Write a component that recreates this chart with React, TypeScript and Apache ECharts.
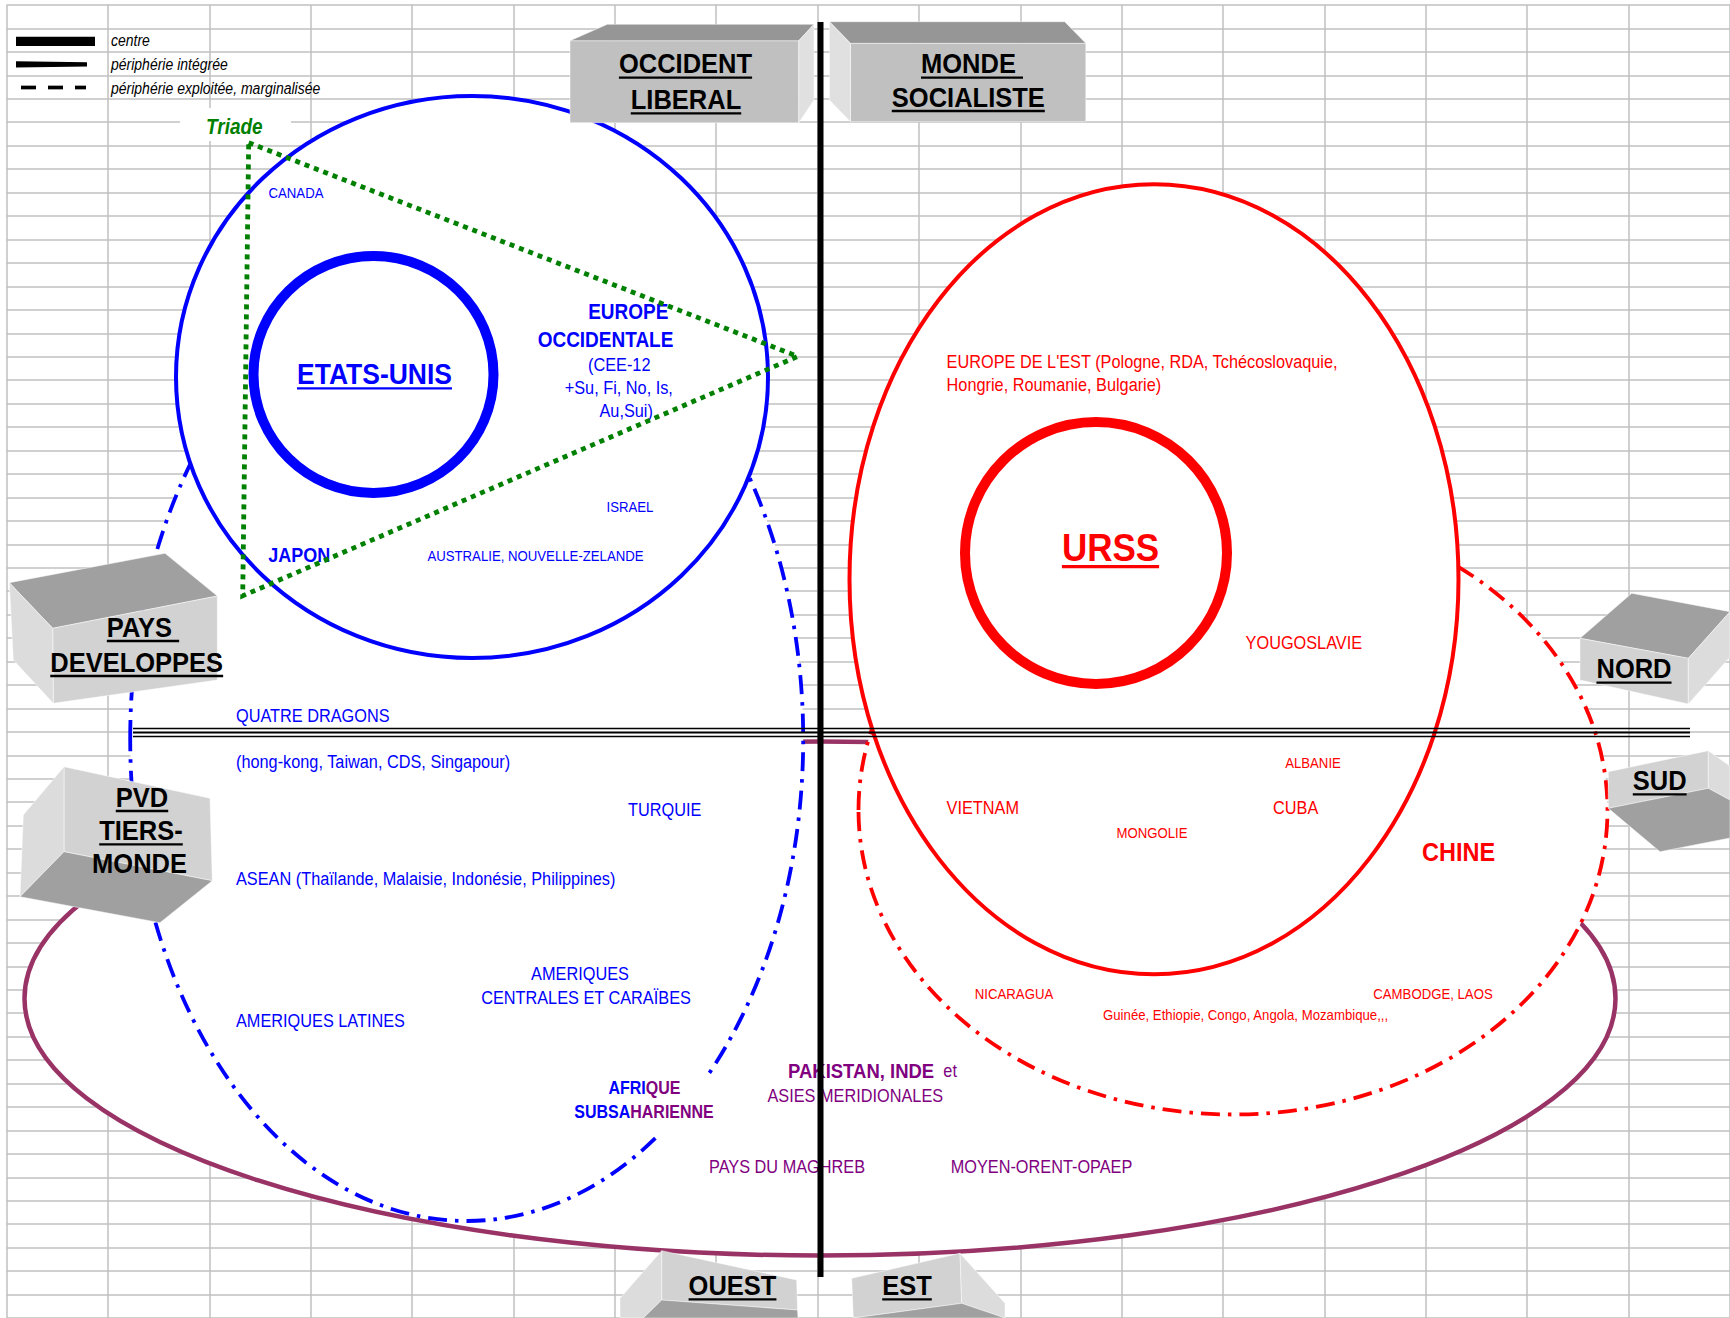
import React, { useEffect, useRef } from 'react';
import * as echarts from 'echarts';

const PAGE_W = 1730;
const PAGE_H = 1318;

// spreadsheet background
const SHEET_COLUMNS = 17;
const SHEET_ROWS = 56;
const COL_W = 101.5;
const ROW_H = 23.46;

const FAMILY = '"Liberation Sans", Arial, Helvetica, sans-serif';
const SY = 1.12;
const BLUE = '#0000ff';
const RED = '#ff0000';
const PURPLE = '#800080';
const GREEN = '#008000';
const PLUM = '#993366';

// legend
const LEGEND_LABELS = ['centre', 'périphérie intégrée', 'périphérie exploitée, marginalisée'];
const LEGEND_ROWS = [41, 65, 89];

// zones : [cx, cy, rx, ry]
const ZONE_TIERS_MONDE = [820, 998.5, 795.5, 257];
const ZONE_PERIPH_OUEST = [466.7, 739, 336.5, 482];
const ZONE_PERIPH_EST = [1233, 810, 374.5, 304.5];
const ZONE_OCCIDENT = [472, 377, 296, 281];
const ZONE_SOCIALISTE = [1154, 579.3, 304.5, 395];
const CENTRE_OUEST = [373.5, 374.5, 120, 118.5];
const CENTRE_EST = [1096, 553, 131, 131];
const TRIADE = [[248.7, 142.7], [797.7, 356.4], [242.7, 595.8]];

// dividers
const DIVIDER_EST_OUEST = [820.5, 22, 1277];
const DIVIDER_NORD_SUD = [133, 1690, 728.5, 732.5, 736.5];

// labels : [text, x, y, kind, align]
const LABELS_OCCIDENT = [
  ['CANADA', 296, 193, 's', 'center'],
  ['EUROPE', 628.3, 311.7, 'b19', 'center'],
  ['OCCIDENTALE', 605.5, 340, 'b19', 'center'],
  ['(CEE-12', 619.2, 364.3, 'n', 'center'],
  ['+Su, Fi, No, Is,', 618.8, 387.7, 'n', 'center'],
  ['Au,Sui)', 626.2, 411, 'n', 'center'],
  ['ISRAEL', 630, 506.7, 's', 'center'],
  ['AUSTRALIE, NOUVELLE-ZELANDE', 535.5, 556, 's', 'center'],
  ['JAPON', 299.2, 555, 'b18', 'center'],
  ['QUATRE DRAGONS', 236, 716, 'n', 'left'],
  ['(hong-kong, Taiwan, CDS, Singapour)', 236, 762, 'n', 'left'],
  ['TURQUIE', 628, 810, 'n', 'left'],
  ['ASEAN (Thaïlande, Malaisie, Indonésie, Philippines)', 236, 879, 'n', 'left'],
  ['AMERIQUES', 580, 973.5, 'n', 'center'],
  ['CENTRALES ET CARAÏBES', 586, 997.3, 'n', 'center'],
  ['AMERIQUES LATINES', 236, 1020.5, 'n', 'left'],
];
const LABELS_SOCIALISTE = [
  ["EUROPE DE L'EST (Pologne, RDA, Tchécoslovaquie,", 946.6, 362, 'n', 'left'],
  ['Hongrie, Roumanie, Bulgarie)', 946.6, 385, 'n', 'left'],
  ['YOUGOSLAVIE', 1245.6, 643, 'n', 'left'],
  ['ALBANIE', 1313, 762.4, 's', 'center'],
  ['VIETNAM', 946.6, 807.6, 'n', 'left'],
  ['CUBA', 1273, 807.6, 'n', 'left'],
  ['MONGOLIE', 1152, 833, 's', 'center'],
  ['CHINE', 1458.6, 851.8, 'b23', 'center'],
  ['NICARAGUA', 1014, 993.5, 's', 'center'],
  ['CAMBODGE, LAOS', 1433, 993.5, 's', 'center'],
  ['Guinée, Ethiopie, Congo, Angola, Mozambique,,,', 1245.6, 1015, 's', 'center'],
];
const LABELS_TIERS_MONDE = [
  ['ASIES MERIDIONALES', 855.3, 1095.7, 'n', 'center'],
  ['PAYS DU MAGHREB', 787, 1166.5, 'n', 'center'],
  ['MOYEN-ORENT-OPAEP', 1041.5, 1166.5, 'n', 'center'],
];
const LABEL_PAKISTAN = ['PAKISTAN, INDE', '  et', 788, 1071];
const LABEL_AFRIQUE = [['AFRI', 'QUE', 644.4, 1088.3], ['SUBSA', 'HARIENNE', 644, 1111.7]];
const LABEL_ETATS_UNIS = ['ETATS-UNIS', 374.5, 373.5];
const LABEL_URSS = ['URSS', 1110.5, 547];
const LABEL_TRIADE = ['Triade', 234.3, 126.7];

// 3D blocks : faces [colour, points] and lines [text, x, y, underlined]
const BLOCKS = [
  {
    faces: [
      ['#c0c0c0', [[570, 40.7], [798.8, 40.7], [798.8, 122.7], [570, 122.7]]],
      ['#969696', [[570, 40.7], [607.4, 24.3], [814, 24.3], [798.8, 40.7]]],
      ['#e0e0e0', [[798.8, 40.7], [814, 24.3], [814, 100], [798.8, 122.7]]],
    ],
    lines: [['OCCIDENT', 685.5, 63.3, true], ['LIBERAL', 686, 99, true]],
  },
  {
    faces: [
      ['#c0c0c0', [[850.4, 43.3], [1085.8, 43.3], [1085.8, 121.7], [850.4, 121.7]]],
      ['#969696', [[829.4, 21.7], [1064.7, 21.7], [1085.8, 43.3], [850.4, 43.3]]],
      ['#e0e0e0', [[829.4, 21.7], [850.4, 43.3], [850.4, 121.7], [829.4, 100]]],
    ],
    lines: [['MONDE ', 972, 63.3, true], ['SOCIALISTE', 968.3, 96.7, true]],
  },
  {
    faces: [
      ['#a0a0a0', [[9.3, 582.7], [165, 553.3], [217.3, 596], [52.7, 628.3]]],
      ['#d2d2d2', [[52.7, 628.3], [217.3, 596], [217.3, 680], [53.3, 703.3]]],
      ['#dcdcdc', [[9.3, 582.7], [52.7, 628.3], [53.3, 703.3], [13.3, 660]]],
    ],
    lines: [['PAYS ', 143, 626.7, true], ['DEVELOPPES', 136.7, 661.7, true]],
  },
  {
    faces: [
      ['#d2d2d2', [[64, 766.7], [210, 798.3], [212.3, 880.7], [64, 851.7]]],
      ['#dcdcdc', [[23.3, 815], [64, 766.7], [64, 851.7], [20, 896.7]]],
      ['#a0a0a0', [[20, 896.7], [64, 851.7], [212.3, 880.7], [160, 922.7]]],
    ],
    lines: [['PVD', 142, 796.7, true], ['TIERS-', 141, 830, true], ['MONDE', 139.5, 863.3, false]],
  },
  {
    faces: [
      ['#a0a0a0', [[1580, 638.3], [1631.7, 593.3], [1730, 611.7], [1688.3, 658.3]]],
      ['#d2d2d2', [[1580, 638.3], [1688.3, 658.3], [1688.3, 704], [1580, 680]]],
      ['#dcdcdc', [[1688.3, 658.3], [1730, 611.7], [1730, 657], [1688.3, 704]]],
    ],
    lines: [['NORD', 1634, 668.3, true]],
  },
  {
    faces: [
      ['#d2d2d2', [[1608.3, 771.7], [1708.3, 750.7], [1708.3, 788.3], [1608.3, 808.3]]],
      ['#dcdcdc', [[1708.3, 750.7], [1730, 766], [1730, 800], [1708.3, 788.3]]],
      ['#a0a0a0', [[1608.3, 808.3], [1708.3, 788.3], [1730, 800], [1730, 838], [1660, 851.7]]],
    ],
    lines: [['SUD', 1659.7, 780, true]],
  },
  {
    faces: [
      ['#dcdcdc', [[620, 1298.3], [661.7, 1250.7], [661.7, 1300], [643.3, 1318], [620, 1318]]],
      ['#d2d2d2', [[661.7, 1250.7], [796.7, 1280], [797.5, 1310], [661.7, 1300]]],
      ['#a0a0a0', [[643.3, 1318], [661.7, 1300], [797.5, 1310], [798, 1318]]],
    ],
    lines: [['OUEST', 732.5, 1285, true]],
  },
  {
    faces: [
      ['#d2d2d2', [[851.7, 1278.3], [960, 1253.3], [961.7, 1303.3], [853.3, 1318]]],
      ['#dcdcdc', [[960, 1253.3], [1005, 1303.3], [1005, 1318], [961.7, 1303.3]]],
      ['#a0a0a0', [[853.3, 1318], [961.7, 1303.3], [1005, 1318]]],
    ],
    lines: [['EST', 907, 1285, true]],
  },
];

const FONTS: Record<string, string> = {
  s: `13.2px ${FAMILY}`,
  n: `16.3px ${FAMILY}`,
  b16: `bold 16px ${FAMILY}`,
  b18: `bold 18px ${FAMILY}`,
  b185: `bold 18.5px ${FAMILY}`,
  b19: `bold 19px ${FAMILY}`,
  b23: `bold 23.5px ${FAMILY}`,
  h26: `bold 26.5px ${FAMILY}`,
  h35: `bold 35px ${FAMILY}`,
  box: `bold 25.5px ${FAMILY}`,
  leg: `italic 14px ${FAMILY}`,
  tri: `italic bold 19px ${FAMILY}`,
};

let measureCtx: CanvasRenderingContext2D | null = null;
function textWidth(text: string, font: string): number {
  if (!measureCtx) {
    measureCtx = document.createElement('canvas').getContext('2d');
  }
  if (!measureCtx) return text.length * 12;
  measureCtx.font = font;
  return measureCtx.measureText(text).width;
}
function fontSize(font: string): number {
  const m = font.match(/([\d.]+)px/);
  return m ? parseFloat(m[1]) : 14;
}

function renderDiagram(_params: any, api: any) {
  const P = (x: number, y: number) => api.coord([x, y]);
  const children: any[] = [];

  const ellipse = (z: number[], style: any) => {
    const c = P(z[0], z[1]);
    const s = api.size([z[2], z[3]]);
    children.push({ type: 'ellipse', shape: { cx: c[0], cy: c[1], rx: s[0], ry: s[1] }, style });
  };
  const polygon = (pts: number[][], style: any) => {
    children.push({ type: 'polygon', shape: { points: pts.map((p) => P(p[0], p[1])) }, style });
  };
  const line = (x1: number, y1: number, x2: number, y2: number, style: any) => {
    const a = P(x1, y1);
    const b = P(x2, y2);
    children.push({ type: 'line', shape: { x1: a[0], y1: a[1], x2: b[0], y2: b[1] }, style });
  };
  const rect = (x: number, y: number, w: number, h: number, fill: string) => {
    const a = P(x, y);
    const s = api.size([w, h]);
    children.push({ type: 'rect', shape: { x: a[0], y: a[1], width: s[0], height: s[1] }, style: { fill } });
  };
  const label = (text: string, x: number, y: number, font: string, fill: string, align: string, underline?: boolean) => {
    const c = P(x, y);
    children.push({
      type: 'text',
      x: c[0],
      y: c[1],
      scaleY: SY,
      style: {
        text,
        font,
        fill,
        align,
        textAlign: align,
        verticalAlign: 'middle',
        textVerticalAlign: 'middle',
      },
    });
    if (underline) {
      const w = textWidth(text, font);
      const size = fontSize(font);
      const left = align === 'center' ? c[0] - w / 2 : align === 'right' ? c[0] - w : c[0];
      const uy = c[1] + size * 0.56;
      children.push({
        type: 'line',
        shape: { x1: left, y1: uy, x2: left + w, y2: uy },
        style: { stroke: fill, lineWidth: Math.max(2, size * 0.09) },
      });
    }
  };
  const richLabel = (parts: string[], colors: string[], fonts: string[], x: number, y: number, align: string) => {
    const c = P(x, y);
    const rich: any = {};
    let text = '';
    parts.forEach((p, i) => {
      const key = 'k' + i;
      rich[key] = { fill: colors[i], color: colors[i], font: fonts[i] };
      text += `{${key}|${p}}`;
    });
    children.push({
      type: 'text',
      x: c[0],
      y: c[1],
      scaleY: SY,
      style: {
        text,
        rich,
        font: fonts[0],
        fill: colors[0],
        align,
        textAlign: align,
        verticalAlign: 'middle',
        textVerticalAlign: 'middle',
      },
    });
  };

  const dashDot = [19, 8, 3.5, 8];

  // zones (white filled, hide the sheet grid)
  ellipse(ZONE_TIERS_MONDE, { fill: '#ffffff', stroke: PLUM, lineWidth: 4.5 });
  ellipse(ZONE_PERIPH_OUEST, { fill: '#ffffff', stroke: BLUE, lineWidth: 3.8, lineDash: dashDot });
  ellipse(ZONE_PERIPH_EST, { fill: '#ffffff', stroke: RED, lineWidth: 3.8, lineDash: dashDot });
  ellipse(ZONE_OCCIDENT, { fill: '#ffffff', stroke: BLUE, lineWidth: 4 });
  ellipse(ZONE_SOCIALISTE, { fill: '#ffffff', stroke: RED, lineWidth: 4 });
  ellipse(CENTRE_OUEST, { fill: 'none', stroke: BLUE, lineWidth: 10 });
  ellipse(CENTRE_EST, { fill: 'none', stroke: RED, lineWidth: 10 });

  // labels
  LABELS_OCCIDENT.forEach((l: any) => label(l[0], l[1], l[2], FONTS[l[3]], BLUE, l[4]));
  LABELS_SOCIALISTE.forEach((l: any) => label(l[0], l[1], l[2], FONTS[l[3]], RED, l[4]));
  LABELS_TIERS_MONDE.forEach((l: any) => label(l[0], l[1], l[2], FONTS[l[3]], PURPLE, l[4]));
  richLabel(
    [LABEL_PAKISTAN[0] as string, LABEL_PAKISTAN[1] as string],
    [PURPLE, PURPLE],
    [FONTS.b185, FONTS.n],
    LABEL_PAKISTAN[2] as number,
    LABEL_PAKISTAN[3] as number,
    'left'
  );
  rect(600, 1076, 122, 60, '#ffffff');
  LABEL_AFRIQUE.forEach((l: any) =>
    richLabel([l[0], l[1]], [BLUE, PURPLE], [FONTS.b16, FONTS.b16], l[2], l[3], 'center')
  );
  label(LABEL_ETATS_UNIS[0] as string, LABEL_ETATS_UNIS[1] as number, LABEL_ETATS_UNIS[2] as number, FONTS.h26, BLUE, 'center', true);
  label(LABEL_URSS[0] as string, LABEL_URSS[1] as number, LABEL_URSS[2] as number, FONTS.h35, RED, 'center', true);

  // triade
  rect(180, 108, 111, 33, '#ffffff');
  polygon(TRIADE, { fill: 'none', stroke: GREEN, lineWidth: 4.8, lineDash: [5, 5] });
  label(LABEL_TRIADE[0] as string, LABEL_TRIADE[1] as number, LABEL_TRIADE[2] as number, FONTS.tri, GREEN, 'center');

  // Nord / Sud divider (triple line)
  const [hx1, hx2, ...hys] = DIVIDER_NORD_SUD;
  hys.forEach((y, i) => line(hx1, y, hx2, y, { stroke: '#000000', lineWidth: i === 1 ? 2.2 : 1.7 }));

  // Est / Ouest divider
  line(DIVIDER_EST_OUEST[0], DIVIDER_EST_OUEST[1], DIVIDER_EST_OUEST[0], DIVIDER_EST_OUEST[2], {
    stroke: '#000000',
    lineWidth: 6,
  });

  // legend
  line(16, 41.3, 95, 41.3, { stroke: '#000000', lineWidth: 9.3 });
  polygon([[16, 61.3], [87, 62.3], [87, 66.5], [16, 67.5]], { fill: '#000000' });
  [[21, 36], [48, 63], [75, 86]].forEach((d) => line(d[0], 87.5, d[1], 87.5, { stroke: '#000000', lineWidth: 3.7 }));
  LEGEND_LABELS.forEach((t, i) => label(t, 111, LEGEND_ROWS[i], FONTS.leg, '#000000', 'left'));

  // 3D blocks
  BLOCKS.forEach((b: any) => {
    b.faces.forEach((f: any) => polygon(f[1], { fill: f[0], stroke: 'rgba(255,255,255,0.6)', lineWidth: 0.8 }));
    b.lines.forEach((l: any) => label(l[0], l[1], l[2], FONTS.box, '#000000', 'center', l[3]));
  });

  return { type: 'group', children };
}

function buildOption() {
  const sheetAxis = {
    type: 'value',
    min: 0,
    interval: 1,
    axisLine: { show: false },
    axisTick: { show: false },
    axisLabel: { show: false },
    splitLine: { show: true, lineStyle: { color: '#c0c0c0', width: 1.5 } },
  };
  return {
    animation: false,
    backgroundColor: '#ffffff',
    grid: [
      { left: 0, top: 0, width: PAGE_W, height: PAGE_H, containLabel: false },
      { left: 6.5, top: 5, width: COL_W * SHEET_COLUMNS, height: ROW_H * SHEET_ROWS, containLabel: false },
    ],
    xAxis: [
      { type: 'value', gridIndex: 0, min: 0, max: PAGE_W, show: false },
      { ...sheetAxis, gridIndex: 1, max: SHEET_COLUMNS },
    ],
    yAxis: [
      { type: 'value', gridIndex: 0, min: 0, max: PAGE_H, inverse: true, show: false },
      { ...sheetAxis, gridIndex: 1, max: SHEET_ROWS, inverse: true },
    ],
    series: [
      { type: 'line', xAxisIndex: 1, yAxisIndex: 1, data: [], silent: true },
      {
        type: 'custom',
        xAxisIndex: 0,
        yAxisIndex: 0,
        silent: true,
        z: 5,
        renderItem: renderDiagram,
        data: [[0, 0]],
      },
    ],
  };
}

export default function App() {
  const ref = useRef<HTMLDivElement>(null);
  useEffect(() => {
    if (!ref.current) return;
    const chart = echarts.init(ref.current, null, { renderer: 'svg', width: PAGE_W, height: PAGE_H });
    chart.setOption(buildOption() as any);
    return () => chart.dispose();
  }, []);
  return (
    <div
      ref={ref}
      style={{ position: 'absolute', left: 0, top: 0, width: PAGE_W, height: PAGE_H, background: '#ffffff' }}
    />
  );
}
